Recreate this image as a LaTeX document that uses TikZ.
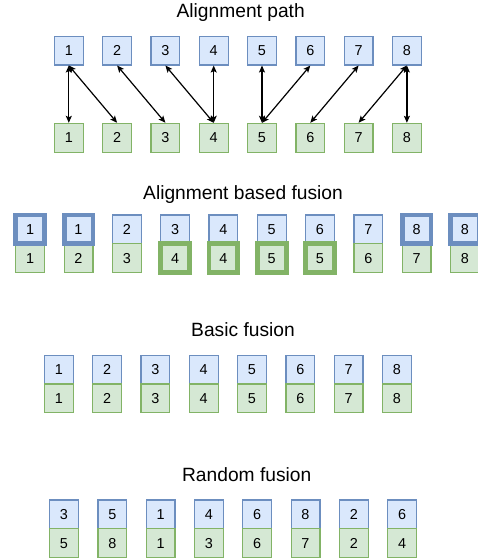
\documentclass[tikz,border=0pt]{standalone}
\usepackage{fontspec}
\setmainfont{Liberation Sans}
\usetikzlibrary{arrows.meta,positioning}
\definecolor{CellBlue}{HTML}{DAE8FC}
\definecolor{CellBlueRule}{HTML}{6C8EBF}
\definecolor{CellGreen}{HTML}{D5E8D4}
\definecolor{CellGreenRule}{HTML}{82B366}
\tikzset{
  cell/.style={rectangle,minimum width=28.8pt,minimum height=28.8pt,inner sep=0pt,
               line width=1.2pt,font=\fontsize{14.4}{16}\selectfont},
  topcell/.style={cell,fill=CellBlue,draw=CellBlueRule},
  botcell/.style={cell,fill=CellGreen,draw=CellGreenRule},
  thickcell/.style={line width=4.8pt},
  heading/.style={font=\fontsize{19.2}{22}\selectfont},
  link/.style={{Stealth[length=7pt,width=6pt,inset=1.5pt]}-{Stealth[length=7pt,width=6pt,inset=1.5pt]},
               line width=1.2pt}
}
\begin{document}
\begin{tikzpicture}[x=1pt,y=-1pt]
  \useasboundingbox (0,0) rectangle (478,558);

  % alignment path
  \node[heading] (path-title) at (240.7,13) {Alignment path};
  \foreach \i in {1,...,8}{
    \node[topcell] (p-top-\i) at ({20.5+48.3*\i},50.5) {\i};
    \node[botcell] (p-bot-\i) at ({20.5+48.3*\i},137.8) {\i};
  }
  \foreach \a/\b in {1/1,1/2,2/3,3/4,4/4,5/5,6/5,7/6,8/7,8/8}
    \draw[link] (p-top-\a.south) -- (p-bot-\b.north);

  % alignment based fusion
  \node[heading] (abf-title) at (243,195) {Alignment based fusion};
  \foreach \i/\v in {3/2,4/3,5/4,6/5,7/6,8/7}
    \node[topcell] (f-top-\i) at ({-18.1+48.3*\i},229.4) {\v};
  \foreach \i/\v in {1/1,2/2,3/3,8/6,9/7,10/8}
    \node[botcell] (f-bot-\i) at ({-18.1+48.3*\i},258.2) {\v};
  % repeated frames get the heavy border
  \foreach \i/\v in {1/1,2/1,9/8,10/8}
    \node[topcell,thickcell] (f-top-\i) at ({-18.1+48.3*\i},229.4) {\v};
  \foreach \i/\v in {4/4,5/4,6/5,7/5}
    \node[botcell,thickcell] (f-bot-\i) at ({-18.1+48.3*\i},258.2) {\v};

  % basic fusion
  \node[heading] (basic-title) at (243,330) {Basic fusion};
  \foreach \i in {1,...,8}{
    \node[topcell] (b-top-\i) at ({10.5+48.3*\i},369.6) {\i};
    \node[botcell] (b-bot-\i) at ({10.5+48.3*\i},398.4) {\i};
  }

  % random fusion
  \node[heading] (rand-title) at (246.7,475) {Random fusion};
  \foreach \i/\a/\b in {1/3/5,2/5/8,3/1/1,4/4/3,5/6/6,6/8/7,7/2/2,8/6/4}{
    \node[topcell] (r-top-\i) at ({15.7+48.3*\i},514.4) {\a};
    \node[botcell] (r-bot-\i) at ({15.7+48.3*\i},543.2) {\b};
  }
\end{tikzpicture}
\end{document}
